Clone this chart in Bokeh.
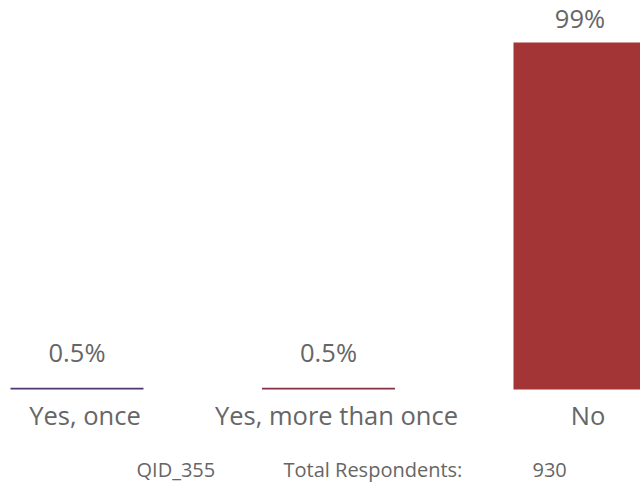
from bokeh.plotting import figure
from bokeh.models import ColumnDataSource, Range1d, Label
from bokeh.core.properties import value
from bokeh.embed import file_html
from bokeh.resources import INLINE

# ---- data ----
categories = ["Yes, once", "Yes, more than once", "No"]
percents = [0.5, 0.5, 99]
percent_labels = ["0.5%", "0.5%", "99%"]
qid = "QID_355"
respondents_label = "Total Respondents:"
respondents = "930"

# ---- styles ----
bar_colors = ["#4f3670", "#873046", "#a33537"]
label_offsets = [-36, -36, -24]
text_color = "#666666"
FONT = "Open Sans"

W, H = 640, 485
idx = list(range(len(categories)))

src = ColumnDataSource(dict(
    x=idx, top=percents, color=bar_colors, cat=categories,
    lab=percent_labels, loff=label_offsets,
))

p = figure(width=W, height=H, output_backend="svg", toolbar_location=None,
           x_range=Range1d(-0.3042, 2.2406), y_range=Range1d(-27.39, 110.98),
           min_border=0, outline_line_color=None)
p.axis.visible = False
p.grid.visible = False
p.background_fill_color = "white"
p.border_fill_color = "white"

p.vbar(x="x", top="top", bottom=0, width=0.5288, fill_color="color",
       line_color=None, source=src)

p.text(x="x", y="top", text="lab", y_offset="loff", source=src,
       text_align="center", text_baseline="alphabetic",
       text_font=value(FONT), text_font_size="25.5px", text_color=text_color)

p.text(x="x", y=0, text="cat", x_offset=8, y_offset=26, source=src,
       text_align="center", text_baseline="alphabetic",
       text_font=value(FONT), text_font_size="25.5px", text_color=text_color)

for txt, sx in [(qid, 136), (respondents_label, 283), (respondents, 532)]:
    p.add_layout(Label(x=sx, y=-22.83, x_units="screen", y_units="data", text=txt,
                       text_font=FONT, text_font_size="20px",
                       text_color=text_color, text_baseline="alphabetic"))

open("out.html", "w").write(file_html(p, INLINE))
